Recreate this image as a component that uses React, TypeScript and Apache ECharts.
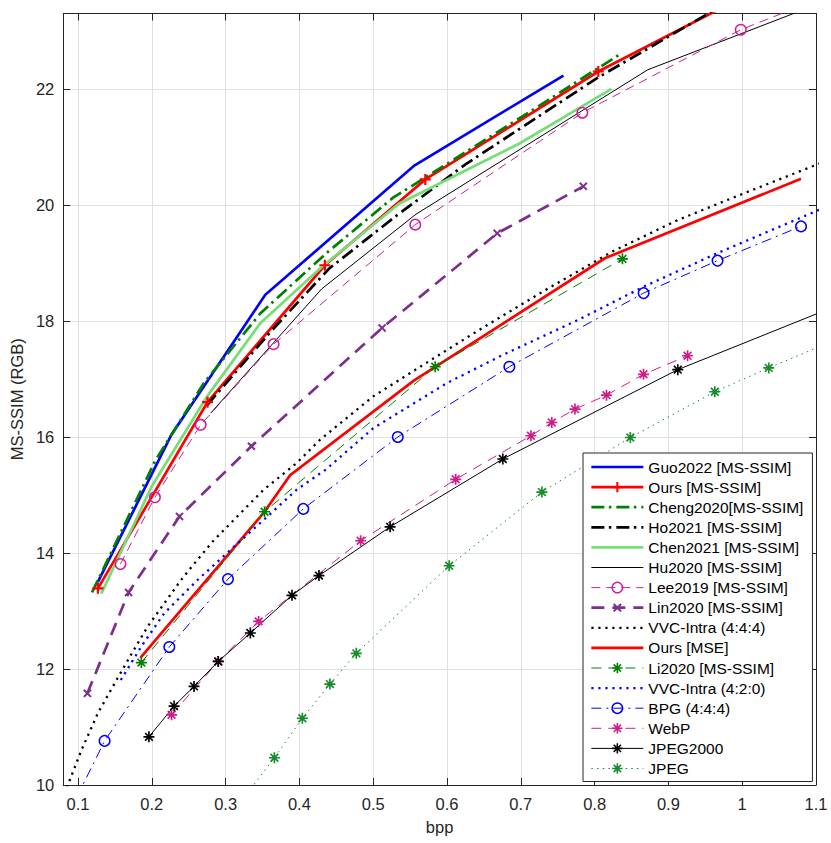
import React, { useEffect, useRef } from 'react';
import * as echarts from 'echarts';

// ---------- data (bpp, MS-SSIM dB) ----------
const seriesNames = [
  'Guo2022 [MS-SSIM]',
  'Ours [MS-SSIM]',
  'Cheng2020[MS-SSIM]',
  'Ho2021 [MS-SSIM]',
  'Chen2021 [MS-SSIM]',
  'Hu2020 [MS-SSIM]',
  'Lee2019 [MS-SSIM]',
  'Lin2020 [MS-SSIM]',
  'VVC-Intra (4:4:4)',
  'Ours [MSE]',
  'Li2020 [MS-SSIM]',
  'VVC-Intra (4:2:0)',
  'BPG (4:4:4)',
  'WebP',
  'JPEG2000',
  'JPEG',
];

const guo2022 = [[0.127, 13.5], [0.2266, 16.04], [0.3537, 18.45], [0.5557, 20.68], [0.7578, 22.23]];
const oursMsssim = [[0.127, 13.39], [0.2755, 16.6], [0.4345, 18.96], [0.5706, 20.44], [0.805, 22.3], [1.0, 23.58]];
const cheng2020 = [[0.119, 13.32], [0.205, 15.6], [0.2706, 16.93], [0.347, 18.13], [0.4367, 19.17], [0.5265, 20.12], [0.715, 21.63], [0.836, 22.61]];
const ho2021 = [[0.275, 16.55], [0.36, 17.8], [0.44, 18.9], [0.53, 19.8], [0.625, 20.7], [0.805, 22.2], [0.965, 23.38]];
const chen2021 = [[0.1315, 13.3], [0.2, 15.15], [0.275, 16.7], [0.347, 17.96], [0.432, 18.95], [0.535, 20.02], [0.697, 21.05], [0.823, 22.0]];
const hu2020 = [[0.2797, 16.41], [0.43, 18.55], [0.558, 19.84], [0.872, 22.33], [1.2, 23.94]];
const lee2019 = [[0.1575, 13.81], [0.2042, 14.96], [0.2662, 16.21], [0.365, 17.6], [0.557, 19.66], [0.7834, 21.59], [0.998, 23.02], [1.25, 24.29]];
const lin2020 = [[0.1127, 11.58], [0.1685, 13.32], [0.2375, 14.63], [0.335, 15.84], [0.512, 17.88], [0.668, 19.51], [0.7847, 20.32]];
const vvc444 = [[0.078, 9.73], [0.089, 10.09], [0.1046, 10.6], [0.127, 11.24], [0.1495, 11.75], [0.172, 12.25], [0.1943, 12.73], [0.2168, 13.13], [0.2393, 13.53], [0.2616, 13.88], [0.2841, 14.22], [0.3066, 14.51], [0.329, 14.8], [0.3515, 15.09], [0.374, 15.32], [0.3963, 15.55], [0.4278, 15.95], [0.5, 16.7], [0.6, 17.5], [0.643, 17.84], [0.733, 18.53], [0.823, 19.19], [0.9127, 19.74], [1.0023, 20.2], [1.12, 20.79]];
const oursMse = [[0.1845, 12.19], [0.3515, 14.69], [0.3874, 15.34], [0.555, 16.97], [0.8138, 19.08], [1.0797, 20.45]];
const li2020 = [[0.1858, 12.11], [0.3528, 14.71], [0.584, 17.21], [0.8377, 19.07]];
const vvc420 = [[0.158, 11.81], [0.1854, 12.38], [0.2168, 12.96], [0.2616, 13.53], [0.302, 14.0], [0.3515, 14.57], [0.3963, 15.09], [0.436, 15.44], [0.5, 16.15], [0.6, 16.93], [0.675, 17.41], [0.778, 18.02], [0.8664, 18.59], [0.9666, 19.17], [1.12, 20.0]];
const bpg = [[0.085, 9.45], [0.136, 10.76], [0.2237, 12.38], [0.3032, 13.55], [0.4053, 14.76], [0.5333, 16.0], [0.6845, 17.21], [0.8664, 18.48], [0.9666, 19.04], [1.0797, 19.63]];
const webp = [[0.2268, 11.21], [0.29, 12.13], [0.3447, 12.82], [0.483, 14.21], [0.6118, 15.27], [0.7137, 16.02], [0.742, 16.25], [0.7734, 16.48], [0.8161, 16.72], [0.8663, 17.08], [0.926, 17.4]];
const jpeg2000 = [[0.1961, 10.83], [0.2302, 11.36], [0.2572, 11.7], [0.29, 12.13], [0.3335, 12.62], [0.39, 13.27], [0.4265, 13.61], [0.5229, 14.45], [0.6756, 15.62], [0.9127, 17.16], [1.2, 18.63]];
const jpeg = [[0.32, 9.7], [0.3661, 10.47], [0.404, 11.15], [0.4413, 11.74], [0.4771, 12.27], [0.6029, 13.78], [0.7286, 15.05], [0.8484, 15.99], [0.9629, 16.78], [1.036, 17.19], [1.15, 17.8]];

const xRange = [0.08, 1.1];
const yRange = [10, 23.3];
const yStep = 2;
const xStep = 0.1;

// ---------- styling ----------
const FONT = "'Liberation Sans', Arial, Helvetica, sans-serif";
const AXIS = '#262626';
const PLUS = 'path://M4,0H6V4H10V6H6V10H4V6H0V4H4Z';
const STAR =
  'path://M4.25,0H5.75V10H4.25Z M0,4.25H10V5.75H0Z M2.03,0.97L9.03,7.97L7.97,9.03L0.97,2.03Z M7.97,0.97L9.03,2.03L2.03,9.03L0.97,7.97Z';

type Spec = {
  data: number[][];
  color: string;
  width: number;
  dash: any;
  symbol?: string;
  size?: number;
  rotate?: number;
  hollow?: boolean;
};

const THICK = 2.7;
const DASHDOT = [13, 4.5, 2.5, 5];
const DOTTED = [2.2, 4.8];
const specs: Spec[] = [
  { data: guo2022, color: '#0000ff', width: THICK, dash: 'solid' },
  { data: oursMsssim, color: '#ff0000', width: THICK, dash: 'solid', symbol: PLUS, size: 11 },
  { data: cheng2020, color: '#008000', width: THICK, dash: DASHDOT },
  { data: ho2021, color: '#000000', width: THICK, dash: DASHDOT },
  { data: chen2021, color: '#77dd77', width: THICK, dash: 'solid' },
  { data: hu2020, color: '#000000', width: 1, dash: 'solid' },
  { data: lee2019, color: '#cc1f99', width: 1, dash: [9, 6], symbol: 'circle', size: 10.5, hollow: true },
  { data: lin2020, color: '#7e2f8e', width: THICK, dash: [13, 8], symbol: PLUS, size: 10, rotate: 45 },
  { data: vvc444, color: '#000000', width: 2.3, dash: DOTTED },
  { data: oursMse, color: '#ff0000', width: THICK, dash: 'solid' },
  { data: li2020, color: '#008000', width: 1, dash: [10, 7], symbol: STAR, size: 11 },
  { data: vvc420, color: '#0000ff', width: 2.3, dash: DOTTED },
  { data: bpg, color: '#0000ff', width: 1, dash: [10, 5, 2, 5], symbol: 'circle', size: 10.5, hollow: true },
  { data: webp, color: '#d01c8b', width: 1, dash: [10, 7], symbol: STAR, size: 11 },
  { data: jpeg2000, color: '#000000', width: 1, dash: 'solid', symbol: STAR, size: 11 },
  { data: jpeg, color: '#178c2c', width: 1, dash: [1.5, 4.2], symbol: STAR, size: 11 },
];

function itemStyleOf(s: Spec) {
  if (!s.symbol) return { color: 'transparent', borderColor: 'transparent', borderWidth: 0 };
  if (s.hollow) return { color: 'transparent', borderColor: s.color, borderWidth: 1.5 };
  return { color: s.color, borderColor: s.color, borderWidth: 0 };
}

export default function App() {
  const ref = useRef<HTMLDivElement>(null);

  useEffect(() => {
    if (!ref.current) return;
    const chart = echarts.init(ref.current, undefined, { renderer: 'svg' });

    const axisCommon = {
      type: 'value' as const,
      axisLine: { show: true, onZero: false, lineStyle: { color: AXIS, width: 1 } },
      axisTick: { show: true, inside: true, length: 7, lineStyle: { color: AXIS, width: 1 } },
      splitLine: { show: false },
    };

    const xBase = {
      ...axisCommon,
      min: xRange[0],
      max: xRange[1],
      splitNumber: 10,
      minInterval: xStep,
      maxInterval: xStep,
    };
    const yBase = {
      ...axisCommon,
      min: yRange[0],
      max: yRange[1],
      interval: yStep,
    };

    const series = specs.map((s, i) => ({
      type: 'line',
      name: seriesNames[i],
      data: s.data,
      xAxisIndex: 0,
      yAxisIndex: 0,
      symbol: s.symbol || 'none',
      symbolSize: s.size || 0,
      symbolRotate: s.rotate || 0,
      showSymbol: !!s.symbol,
      clip: true,
      smooth: false,
      lineStyle: { color: s.color, width: s.width, type: s.dash, cap: 'butt', join: 'miter' },
      itemStyle: itemStyleOf(s),
      emphasis: { disabled: true },
      silent: true,
    }));

    chart.setOption({
      animation: false,
      backgroundColor: '#ffffff',
      textStyle: { fontFamily: FONT },
      grid: { left: 58.3, right: 15, top: 13.5, bottom: 58, containLabel: false },
      xAxis: [
        {
          ...xBase,
          position: 'bottom',
          name: 'bpp',
          nameLocation: 'middle',
          nameGap: 33,
          nameTextStyle: { fontSize: 16.5, color: AXIS, fontFamily: FONT },
          axisLabel: { show: true, showMinLabel: false, margin: 10, fontSize: 16.5, color: AXIS, fontFamily: FONT },
          splitLine: { show: true, lineStyle: { color: '#e0e0e0', width: 1 } },
        },
        {
          ...xBase,
          position: 'top',
          axisLabel: { show: false },
        },
      ],
      yAxis: [
        {
          ...yBase,
          position: 'left',
          name: 'MS-SSIM (RGB)',
          nameLocation: 'middle',
          nameGap: 36,
          nameRotate: 90,
          nameTextStyle: { fontSize: 16.5, color: AXIS, fontFamily: FONT },
          axisLabel: { show: true, showMaxLabel: false, margin: 9, fontSize: 16.5, color: AXIS, fontFamily: FONT },
          splitLine: { show: true, lineStyle: { color: '#e0e0e0', width: 1 } },
        },
        {
          ...yBase,
          position: 'right',
          axisLabel: { show: false },
        },
      ],
      legend: {
        show: true,
        orient: 'vertical',
        left: 583,
        top: 453,
        padding: [6, 9, 5, 7],
        itemWidth: 52,
        itemHeight: 13,
        itemGap: 4.1,
        selectedMode: false,
        backgroundColor: '#ffffff',
        borderColor: AXIS,
        borderWidth: 1,
        borderRadius: 0,
        textStyle: { fontSize: 15.5, lineHeight: 16, color: '#000000', fontFamily: FONT },
        data: specs.map((s, i) => ({
          name: seriesNames[i],
          lineStyle: { color: s.color, width: s.width, type: s.dash },
          itemStyle: itemStyleOf(s),
        })),
      },
      series,
    });

    return () => chart.dispose();
  }, []);

  return (
    <div
      ref={ref}
      style={{ position: 'absolute', left: 0, top: 0, width: 831, height: 843, background: '#fff' }}
    />
  );
}
